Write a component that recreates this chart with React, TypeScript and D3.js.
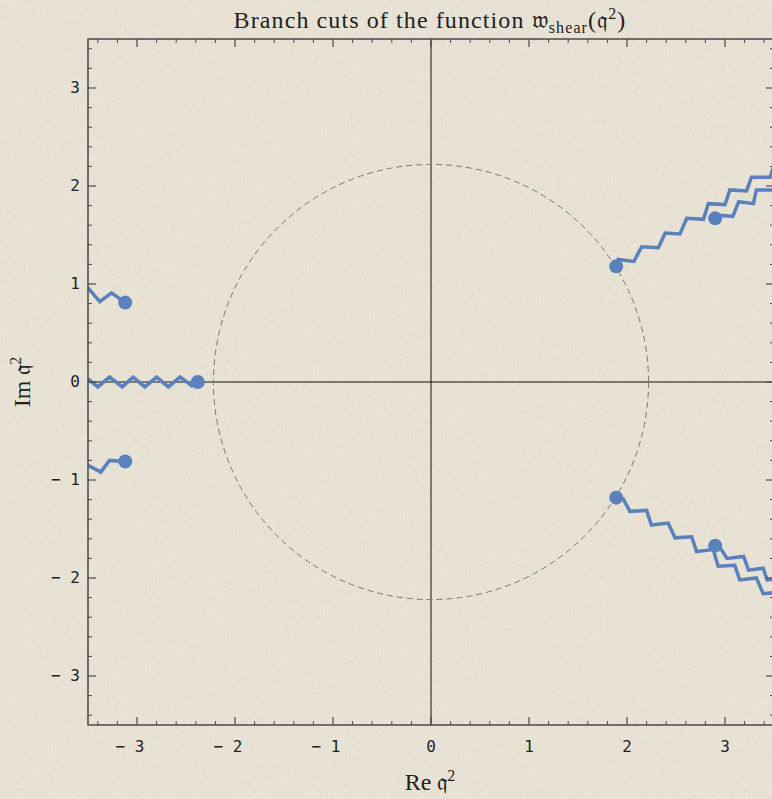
import * as d3 from "d3";

// tick labels
const majorTicks = [-3, -2, -1, 0, 1, 2, 3];
const tickLabels = ["\u2212 3", "\u2212 2", "\u2212 1", "0", "1", "2", "3"];

// branch points (Re, Im)
const branchPoints: [number, number][] = [
  [-2.38, 0],
  [-3.12, 0.81],
  [-3.12, -0.81],
  [1.89, 1.18],
  [1.89, -1.18],
  [2.9, 1.67],
  [2.9, -1.67],
];

// zigzag branch cuts, vertices
const cutRealAxis: [number, number][] = [
  [-3.51, 0.04], [-3.4, -0.05], [-3.28, 0.05], [-3.15, -0.05], [-3.04, 0.05],
  [-2.92, -0.05], [-2.8, 0.05], [-2.68, -0.05], [-2.56, 0.05], [-2.44, -0.04],
  [-2.38, 0],
];
const cutUpperLeft: [number, number][] = [
  [-3.5, 0.96], [-3.38, 0.82], [-3.26, 0.91], [-3.12, 0.81],
];
const cutLowerLeft: [number, number][] = [
  [-3.5, -0.85], [-3.37, -0.92], [-3.28, -0.8], [-3.12, -0.81],
];
const cutUpperRight1: [number, number][] = [
  [1.89, 1.18], [1.91, 1.25], [2.07, 1.23], [2.15, 1.38], [2.32, 1.37],
  [2.39, 1.52], [2.54, 1.51], [2.61, 1.67], [2.78, 1.66], [2.83, 1.82],
  [3.0, 1.81], [3.05, 1.96], [3.22, 1.95], [3.27, 2.09], [3.46, 2.09],
  [3.5, 2.21],
];
const cutUpperRight2: [number, number][] = [
  [2.9, 1.67], [2.97, 1.7], [3.08, 1.69], [3.14, 1.84], [3.29, 1.82],
  [3.32, 1.96], [3.5, 1.96],
];
const cutLowerRight1: [number, number][] = [
  [1.89, -1.17], [1.96, -1.19], [2.03, -1.32], [2.2, -1.31], [2.25, -1.46],
  [2.42, -1.44], [2.49, -1.59], [2.66, -1.58], [2.71, -1.73], [2.88, -1.71],
  [2.93, -1.88], [3.1, -1.87], [3.15, -2.02], [3.32, -2.0], [3.39, -2.16],
  [3.5, -2.15],
];
const cutLowerRight2: [number, number][] = [
  [2.9, -1.66], [2.95, -1.69], [3.02, -1.8], [3.19, -1.78], [3.24, -1.92],
  [3.39, -1.9], [3.43, -2.02], [3.5, -2.01],
];
const cuts = [
  cutRealAxis, cutUpperLeft, cutLowerLeft,
  cutUpperRight1, cutUpperRight2, cutLowerRight1, cutLowerRight2,
];

const circleRadius = 2.22;

const W = 772;
const H = 799;
const blue = "#5b81bd";
const serif = "'Liberation Serif', 'DejaVu Serif', serif";
const mono = "'DejaVu Sans Mono', 'Liberation Mono', monospace";

function App() {
  const x = d3.scaleLinear().domain([-3.5, 3.5]).range([88, 774]);
  const y = d3.scaleLinear().domain([-3.5, 3.5]).range([725, 39]);
  const line = d3
    .line<[number, number]>()
    .x((d) => x(d[0]))
    .y((d) => y(d[1]));

  const minor = x.ticks(35).filter((t) => Math.abs(t - Math.round(t)) > 1e-6);
  const [x0, x1] = x.range();
  const [y0, y1] = y.range();
  const frame = "#4a4a4a";

  return (
    <div style={{ position: "absolute", left: 0, top: 0 }}>
      <svg width={W} height={H} style={{ display: "block" }}>
        <defs>
          <filter id="paper" x="0" y="0" width="100%" height="100%">
            <feTurbulence type="fractalNoise" baseFrequency="0.7 0.2" numOctaves="2" seed="4" />
            <feColorMatrix
              type="matrix"
              values="0 0 0 0 0.6  0 0 0 0 0.55  0 0 0 0 0.45  0 0 0 0.7 -0.15"
            />
          </filter>
          <clipPath id="plot">
            <rect x={x0} y={y1} width={x1 - x0} height={y0 - y1} />
          </clipPath>
        </defs>
        <rect width={W} height={H} fill="#ebe6d9" />
        <rect width={W} height={H} filter="url(#paper)" opacity={0.6} />

        {/* title */}
        <text
          x={430}
          y={28}
          textAnchor="middle"
          fontFamily={serif}
          fontSize={24}
          letterSpacing={1.1}
          fill="#222"
        >
          Branch cuts of the function {"\u{1D534}"}
          <tspan fontSize={16} dy={5}>shear</tspan>
          <tspan dy={-5}>({"\u{1D52E}"}</tspan>
          <tspan fontSize={16} dy={-9}>2</tspan>
          <tspan dy={9}>)</tspan>
        </text>

        {/* axes through origin */}
        <line x1={x0} x2={x1} y1={y(0)} y2={y(0)} stroke="#111" strokeWidth={1} />
        <line x1={x(0)} x2={x(0)} y1={y1} y2={y0} stroke="#111" strokeWidth={1} />

        {/* dashed circle */}
        <circle
          cx={x(0)}
          cy={y(0)}
          r={x(circleRadius) - x(0)}
          fill="none"
          stroke="#777"
          strokeWidth={1}
          strokeDasharray="6,4"
        />

        <g clipPath="url(#plot)">
          {cuts.map((c, i) => (
            <path
              key={i}
              d={line(c) ?? ""}
              fill="none"
              stroke={blue}
              strokeWidth={3.5}
              strokeLinejoin="miter"
            />
          ))}
          {branchPoints.map((p, i) => (
            <circle key={i} cx={x(p[0])} cy={y(p[1])} r={7} fill={blue} />
          ))}
        </g>

        {/* frame */}
        <rect
          x={x0}
          y={y1}
          width={x1 - x0}
          height={y0 - y1}
          fill="none"
          stroke={frame}
          strokeWidth={1.5}
        />
        {majorTicks.map((t) => (
          <g key={"M" + t} stroke={frame} strokeWidth={1.2}>
            <line x1={x(t)} x2={x(t)} y1={y0} y2={y0 - 8} />
            <line x1={x(t)} x2={x(t)} y1={y1} y2={y1 + 8} />
            <line x1={x0} x2={x0 + 8} y1={y(t)} y2={y(t)} />
            <line x1={x1} x2={x1 - 8} y1={y(t)} y2={y(t)} />
          </g>
        ))}
        {minor.map((t) => (
          <g key={"m" + t} stroke={frame} strokeWidth={1}>
            <line x1={x(t)} x2={x(t)} y1={y0} y2={y0 - 4} />
            <line x1={x(t)} x2={x(t)} y1={y1} y2={y1 + 4} />
            <line x1={x0} x2={x0 + 4} y1={y(t)} y2={y(t)} />
            <line x1={x1} x2={x1 - 4} y1={y(t)} y2={y(t)} />
          </g>
        ))}

        {/* tick labels */}
        {majorTicks.map((t, i) => (
          <text
            key={"xl" + t}
            x={x(t) - (t < 0 ? 7 : 0)}
            y={752}
            textAnchor="middle"
            fontFamily={mono}
            fontSize={16}
            fill="#222"
          >
            {tickLabels[i]}
          </text>
        ))}
        {majorTicks.map((t, i) => (
          <text
            key={"yl" + t}
            x={80}
            y={y(t) + 5}
            textAnchor="end"
            fontFamily={mono}
            fontSize={16}
            fill="#222"
          >
            {tickLabels[i]}
          </text>
        ))}

        {/* axis titles */}
        <text x={430} y={790} textAnchor="middle" fontFamily={serif} fontSize={24} fill="#222">
          Re {"\u{1D52E}"}
          <tspan fontSize={16} dy={-9}>2</tspan>
        </text>
        <text
          transform={`translate(30, ${y(0)}) rotate(-90)`}
          textAnchor="middle"
          fontFamily={serif}
          fontSize={24}
          fill="#222"
        >
          Im {"\u{1D52E}"}
          <tspan fontSize={16} dy={-9}>2</tspan>
        </text>
      </svg>
    </div>
  );
}

export default App;
